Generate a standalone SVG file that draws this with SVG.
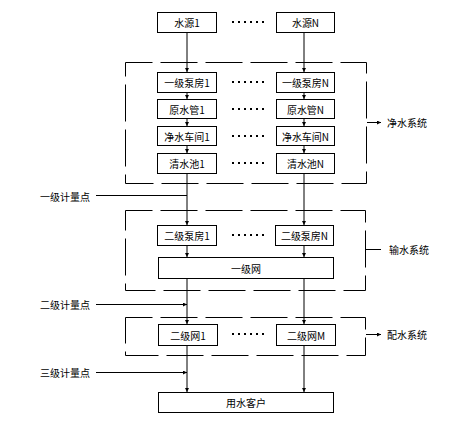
<svg xmlns="http://www.w3.org/2000/svg" width="466" height="433" viewBox="0 0 466 433">
<style>
.box{fill:#fff;stroke:#000;stroke-width:1}
.sys{fill:none;stroke:#000;stroke-width:1;stroke-dasharray:37 8;stroke-dashoffset:10}
.ln{fill:none;stroke:#000;stroke-width:1}
.dots{fill:none;stroke:#000;stroke-width:2;stroke-dasharray:2 4}
text{font-family:"Noto Sans CJK SC","Liberation Sans",sans-serif;font-size:10px;fill:#000;dominant-baseline:central}
.c{text-anchor:middle}
</style>
<defs>
<marker id="ar" viewBox="0 0 6 6" refX="6" refY="3" markerWidth="4" markerHeight="4" orient="auto" markerUnits="userSpaceOnUse">
<path d="M0,0 L6,3 L0,6 Z" fill="#000"/>
</marker>
</defs>
<rect x="0" y="0" width="466" height="433" fill="#fff"/>
<g id="systems">
<rect class="sys" x="125.5" y="62.5" width="241" height="121"/>
<rect class="sys" x="125.5" y="210.5" width="240" height="80"/>
<rect class="sys" x="125.5" y="317.5" width="240" height="38"/>
</g>
<g id="connectors">
<path class="ln" marker-end="url(#ar)" d="M187,32 V72"/>
<path class="ln" marker-end="url(#ar)" d="M304,32 V72"/>
<path class="ln" marker-end="url(#ar)" d="M187,93 V99"/>
<path class="ln" marker-end="url(#ar)" d="M304,93 V99"/>
<path class="ln" marker-end="url(#ar)" d="M187,119 V126"/>
<path class="ln" marker-end="url(#ar)" d="M304,119 V126"/>
<path class="ln" marker-end="url(#ar)" d="M187,146 V153"/>
<path class="ln" marker-end="url(#ar)" d="M304,146 V153"/>
<path class="ln" marker-end="url(#ar)" d="M187,173 V225"/>
<path class="ln" marker-end="url(#ar)" d="M304,173 V225"/>
<path class="ln" marker-end="url(#ar)" d="M187,245 V257"/>
<path class="ln" marker-end="url(#ar)" d="M304,245 V257"/>
<path class="ln" marker-end="url(#ar)" d="M187,278 V324"/>
<path class="ln" marker-end="url(#ar)" d="M304,278 V324"/>
<path class="ln" marker-end="url(#ar)" d="M187,345 V392"/>
<path class="ln" marker-end="url(#ar)" d="M304,345 V392"/>
<path class="ln" d="M96,195.5 H187"/>
<path class="ln" marker-end="url(#ar)" d="M96,304.5 H187"/>
<path class="ln" marker-end="url(#ar)" d="M96,372.5 H187"/>
<path class="ln" marker-end="url(#ar)" d="M367,122.5 H381"/>
<path class="ln" d="M366,249.5 H381"/>
<path class="ln" marker-end="url(#ar)" d="M366,334.5 H381"/>
</g>
<g id="dots">
<path class="dots" d="M232,22 H264"/>
<path class="dots" d="M232,82 H264"/>
<path class="dots" d="M232,109 H264"/>
<path class="dots" d="M232,136 H264"/>
<path class="dots" d="M232,163 H264"/>
<path class="dots" d="M232,235 H264"/>
<path class="dots" d="M232,334 H264"/>
</g>
<g id="n-src1"><rect class="box" x="157.5" y="12.5" width="59" height="20"/><text class="c" x="187" y="22.5">水源1</text></g>
<g id="n-srcN"><rect class="box" x="276.5" y="12.5" width="58" height="20"/><text class="c" x="305.5" y="22.5">水源N</text></g>
<g id="n-p1a"><rect class="box" x="157.5" y="72.5" width="59" height="20"/><text class="c" x="187" y="82.5">一级泵房1</text></g>
<g id="n-p1N"><rect class="box" x="276.5" y="72.5" width="58" height="20"/><text class="c" x="305.5" y="82.5">一级泵房N</text></g>
<g id="n-raw1"><rect class="box" x="157.5" y="99.5" width="59" height="19"/><text class="c" x="187" y="109">原水管1</text></g>
<g id="n-rawN"><rect class="box" x="276.5" y="99.5" width="58" height="19"/><text class="c" x="305.5" y="109">原水管N</text></g>
<g id="n-ws1"><rect class="box" x="157.5" y="126.5" width="59" height="19"/><text class="c" x="187" y="136">净水车间1</text></g>
<g id="n-wsN"><rect class="box" x="276.5" y="126.5" width="58" height="19"/><text class="c" x="305.5" y="136">净水车间N</text></g>
<g id="n-cw1"><rect class="box" x="157.5" y="153.5" width="59" height="20"/><text class="c" x="187" y="163.5">清水池1</text></g>
<g id="n-cwN"><rect class="box" x="276.5" y="153.5" width="58" height="20"/><text class="c" x="305.5" y="163.5">清水池N</text></g>
<g id="n-p2a"><rect class="box" x="157.5" y="225.5" width="59" height="20"/><text class="c" x="187" y="235.5">二级泵房1</text></g>
<g id="n-p2N"><rect class="box" x="275.5" y="225.5" width="58" height="20"/><text class="c" x="304.5" y="235.5">二级泵房N</text></g>
<g id="n-net1"><rect class="box" x="158.5" y="257.5" width="175" height="21"/><text class="c" x="246" y="268">一级网</text></g>
<g id="n-net2a"><rect class="box" x="158.5" y="324.5" width="59" height="21"/><text class="c" x="188" y="335">二级网1</text></g>
<g id="n-net2M"><rect class="box" x="276.5" y="324.5" width="59" height="21"/><text class="c" x="306" y="335">二级网M</text></g>
<g id="n-user"><rect class="box" x="158.5" y="392.5" width="175" height="20"/><text class="c" x="246" y="402.5">用水客户</text></g>
<g id="labels">
<text x="40" y="196">一级计量点</text>
<text x="40" y="304.5">二级计量点</text>
<text x="40" y="372.5">三级计量点</text>
<text x="387" y="122.5">净水系统</text>
<text x="389" y="249.5">输水系统</text>
<text x="387" y="334.5">配水系统</text>
</g>
</svg>
